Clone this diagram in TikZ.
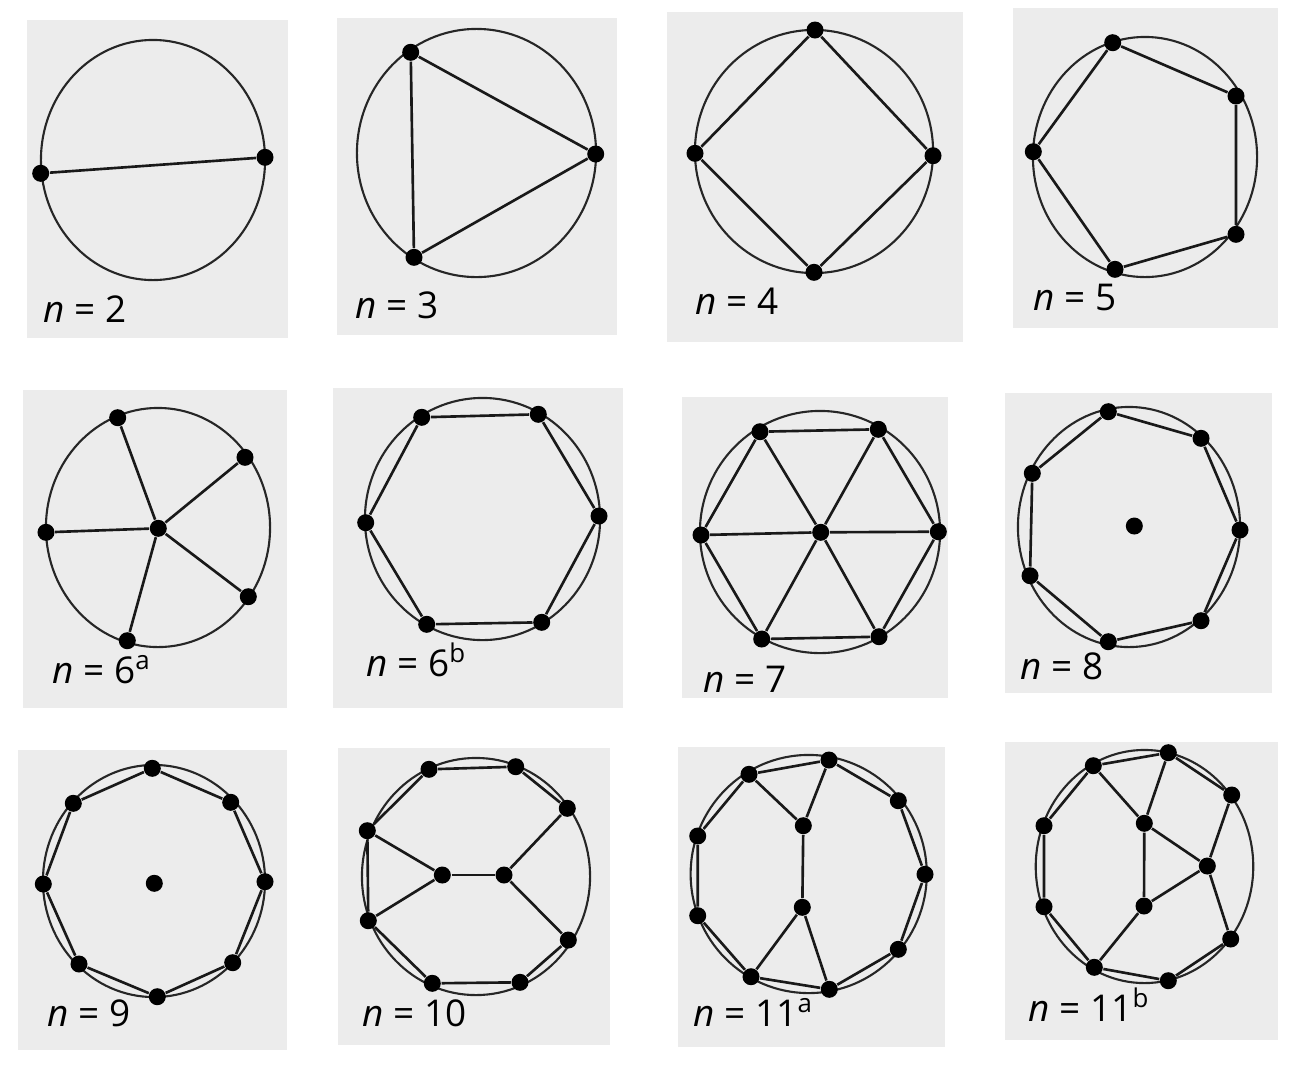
\documentclass[tikz,border=0pt]{standalone}
\usepackage{fontspec}
\setmainfont{Open Sans}
\begin{document}
\begin{tikzpicture}[x=0.01cm,y=-0.01cm,
  panel/.style={fill=panelgray,draw=none},
  ring/.style={draw=black!85,line width=0.6pt},
  dot/.style={circle,fill=black,inner sep=0pt,minimum size=0.17cm},
  edge/.style={draw=black!90,line width=0.75pt},
  lab/.style={anchor=base west,inner sep=0pt,font=\fontsize{10.5}{12}\selectfont}]
\definecolor{panelgray}{RGB}{236,236,236}
\useasboundingbox[fill=white] (0,0) rectangle (1300,1069);
% panels
\fill[panel] (27,20) rectangle (288,338);
\fill[panel] (337,18) rectangle (617,335);
\fill[panel] (667,12) rectangle (963,342);
\fill[panel] (1013,8) rectangle (1278,328);
\fill[panel] (23,390) rectangle (287,708);
\fill[panel] (333,388) rectangle (623,708);
\fill[panel] (682,397) rectangle (948,698);
\fill[panel] (1005,393) rectangle (1272,693);
\fill[panel] (18,750) rectangle (287,1050);
\fill[panel] (338,748) rectangle (610,1045);
\fill[panel] (678,747) rectangle (945,1047);
\fill[panel] (1005,742) rectangle (1278,1040);
% rings
\draw[ring] (153,160) ellipse [x radius=1.12cm, y radius=1.20cm];
\draw[ring] (476.5,153) ellipse [x radius=1.195cm, y radius=1.24cm];
\draw[ring] (814,151.5) ellipse [x radius=1.19cm, y radius=1.215cm];
\draw[ring] (1145,157) ellipse [x radius=1.12cm, y radius=1.20cm];
\draw[ring] (158,527.5) ellipse [x radius=1.12cm, y radius=1.195cm];
\draw[ring] (482.5,519) ellipse [x radius=1.175cm, y radius=1.21cm];
\draw[ring] (820,532) ellipse [x radius=1.20cm, y radius=1.21cm];
\draw[ring] (1129,527) ellipse [x radius=1.11cm, y radius=1.20cm];
\draw[ring] (154,881) ellipse [x radius=1.11cm, y radius=1.16cm];
\draw[ring] (476,876.5) ellipse [x radius=1.14cm, y radius=1.185cm];
\draw[ring] (808.7,874) ellipse [x radius=1.18cm, y radius=1.19cm];
\draw[ring] (1144.5,866.5) ellipse [x radius=1.087cm, y radius=1.165cm];
% n = 2
\node[dot] (a1) at (40.7,173.3) {};
\node[dot] (a2) at (265,157.3) {};
\draw[edge] (a1) -- (a2);
\node[lab] (la) at (43,322) {\textit{n} = 2};
% n = 3
\foreach [count=\i] \p in {(410.7,52.3),(595.7,154),(414,257.3)} \node[dot] (b\i) at \p {};
\draw[edge] (b1) -- (b2) -- (b3) -- (b1);
\node[lab] (lb) at (355,318) {\textit{n} = 3};
% n = 4
\foreach [count=\i] \p in {(815,30),(933,155.7),(814,272.3),(695,153.3)} \node[dot] (c\i) at \p {};
\draw[edge] (c1) -- (c2) -- (c3) -- (c4) -- (c1);
\node[lab] (lc) at (695,314) {\textit{n} = 4};
% n = 5
\foreach [count=\i] \p in {(1112.7,42.7),(1236,96),(1236,234.3),(1115,269.3),(1033.3,151.7)} \node[dot] (d\i) at \p {};
\draw[edge] (d1) -- (d2) -- (d3) -- (d4) -- (d5) -- (d1);
\node[lab] (ld) at (1033,310) {\textit{n} = 5};
% n = 6a
\foreach [count=\i] \p in {(117.7,417.7),(245,457.3),(248.3,596.7),(127.3,640.7),(46,532.3)} \node[dot] (e\i) at \p {};
\node[dot] (e0) at (158.3,528.3) {};
\foreach \i in {1,...,5} \draw[edge] (e0) -- (e\i);
\node[lab] (le) at (52,683) {\textit{n} = 6\textsuperscript{a}};
% n = 6b
\foreach [count=\i] \p in {(421.7,417.3),(538.3,414.3),(599,516),(541.7,622.3),(426.7,624.3),(365.7,522.7)} \node[dot] (f\i) at \p {};
\draw[edge] (f1) -- (f2) -- (f3) -- (f4) -- (f5) -- (f6) -- (f1);
\node[lab] (lf) at (366,676) {\textit{n} = 6\textsuperscript{b}};
% n = 7
\foreach [count=\i] \p in {(760,431.7),(878.3,429.3),(938.3,531.7),(879,636.7),(761.7,639),(701,535)} \node[dot] (g\i) at \p {};
\node[dot] (g0) at (820.7,532.3) {};
\draw[edge] (g1) -- (g2) -- (g3) -- (g4) -- (g5) -- (g6) -- (g1);
\foreach \i in {1,...,6} \draw[edge] (g0) -- (g\i);
\node[lab] (lg) at (703,692) {\textit{n} = 7};
% n = 8
\foreach [count=\i] \p in {(1108.3,411.7),(1201,438.3),(1240,530),(1201,620.7),(1108.3,641.7),(1030,575.7),(1032.3,473.3)} \node[dot] (h\i) at \p {};
\node[dot] (h0) at (1134.3,526) {};
\draw[edge] (h1) -- (h2) -- (h3) -- (h4) -- (h5) -- (h6) -- (h7) -- (h1);
\node[lab] (lh) at (1020,679) {\textit{n} = 8};
% n = 9
\foreach [count=\i] \p in {(152.3,768.3),(230.7,802.3),(265,881.7),(232.7,962.7),(157.3,996.7),(79,964),(43.3,884),(73.3,803.3)} \node[dot] (k\i) at \p {};
\node[dot] (k0) at (154.3,883.3) {};
\draw[edge] (k1) -- (k2) -- (k3) -- (k4) -- (k5) -- (k6) -- (k7) -- (k8) -- (k1);
\node[lab] (lk) at (47,1026) {\textit{n} = 9};
% n = 10
\node[dot] (m1) at (429,769.3) {};
\node[dot] (m2) at (515.7,766.7) {};
\node[dot] (m3) at (567.3,808.3) {};
\node[dot] (m4) at (568.3,940) {};
\node[dot] (m5) at (520,982.3) {};
\node[dot] (m6) at (432.3,983.3) {};
\node[dot] (m7) at (368.3,920.7) {};
\node[dot] (m8) at (367.3,830.7) {};
\node[dot] (mi) at (442.3,875) {};
\node[dot] (mj) at (504,875) {};
\draw[edge] (m8) -- (m1) -- (m2) -- (m3);
\draw[edge] (m4) -- (m5) -- (m6) -- (m7) -- (m8);
\draw[edge] (m8) -- (mi) -- (m7);
\draw[edge] (mi) -- (mj);
\draw[edge] (m3) -- (mj) -- (m4);
\node[lab] (lm) at (362,1026) {\textit{n} = 10};
% n = 11a
\foreach [count=\i] \p in {(749,774.3),(829,760),(898.3,800.7),(925,874.3),(898.3,949.3),(829.3,989.3),(751,976.7),(697.7,915.7),(697.7,836)} \node[dot] (p\i) at \p {};
\node[dot] (pu) at (803.3,825.7) {};
\node[dot] (pd) at (802.3,907.3) {};
\draw[edge] (p1) -- (p2) -- (p3) -- (p4) -- (p5) -- (p6) -- (p7) -- (p8) -- (p9) -- (p1);
\draw[edge] (p1) -- (pu) -- (p2);
\draw[edge] (pu) -- (pd);
\draw[edge] (p7) -- (pd) -- (p6);
\node[lab] (lp) at (693,1026) {\textit{n} = 11\textsuperscript{a}};
% n = 11b
\foreach [count=\i] \p in {(1093.3,765.7),(1168.3,752.7),(1231.7,795),(1230.7,939),(1168.3,980.7),(1094.3,967.3),(1044,906.7),(1044,825.7)} \node[dot] (q\i) at \p {};
\node[dot] (qp) at (1144.3,823.3) {};
\node[dot] (qr) at (1207.3,866) {};
\node[dot] (qs) at (1144,906) {};
\draw[edge] (q3) -- (q2) -- (q1) -- (q8) -- (q7) -- (q6) -- (q5) -- (q4);
\draw[edge] (q3) -- (qr) -- (q4);
\draw[edge] (q1) -- (qp) -- (q2);
\draw[edge] (qp) -- (qr) -- (qs) -- (qp);
\draw[edge] (qs) -- (q6);
\node[lab] (lq) at (1028,1021) {\textit{n} = 11\textsuperscript{b}};
\end{tikzpicture}
\end{document}
